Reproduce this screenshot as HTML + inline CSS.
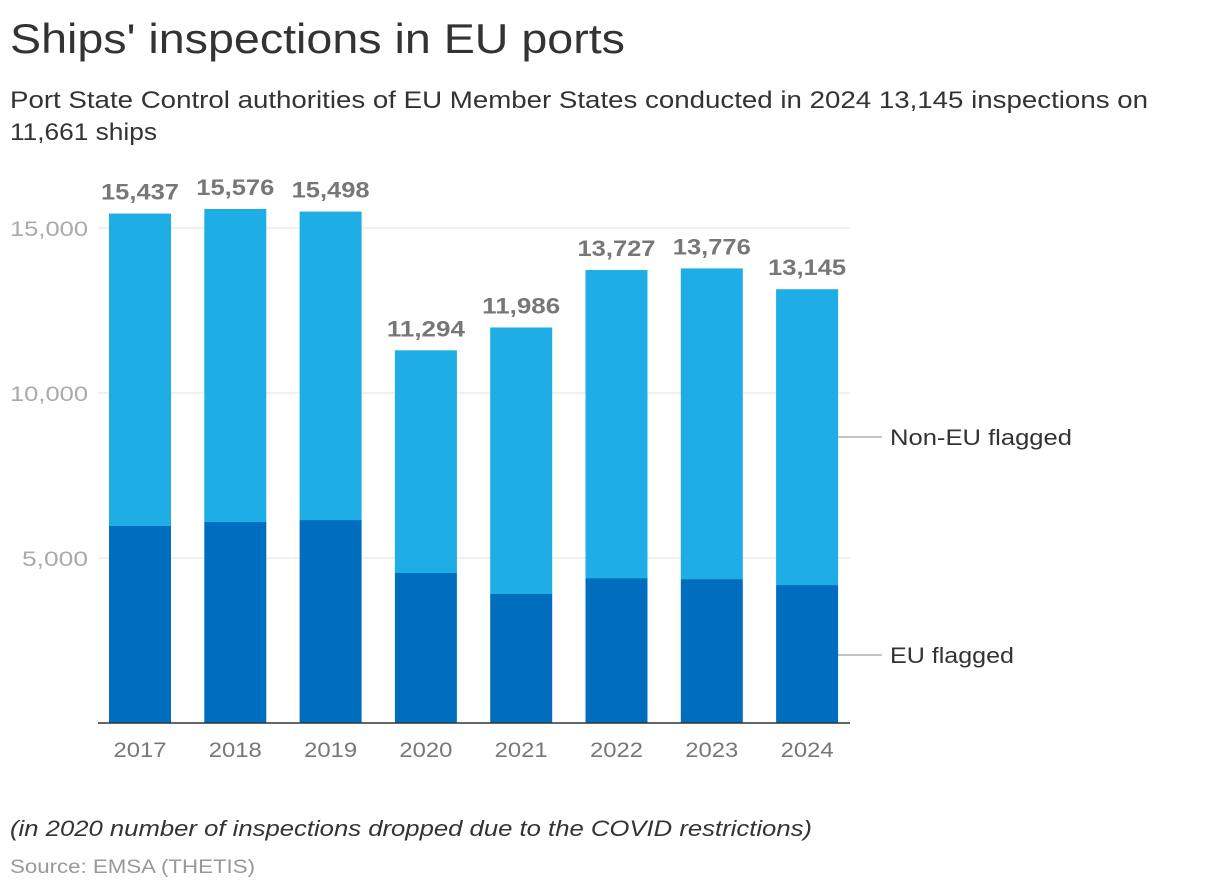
<!DOCTYPE html>
<html><head><meta charset="utf-8">
<style>
body{margin:0;background:#fff;width:1220px;height:890px;overflow:hidden;font-family:"Liberation Sans",sans-serif;}
svg text{font-family:"Liberation Sans",sans-serif;}
</style></head>
<body>
<svg id="chart" width="1220" height="890">
<text x="10" y="53" font-size="42" fill="#333" textLength="615" lengthAdjust="spacingAndGlyphs">Ships' inspections in EU ports</text>
<text x="10" y="108" font-size="24" fill="#333" textLength="1138" lengthAdjust="spacingAndGlyphs">Port State Control authorities of EU Member States conducted in 2024 13,145 inspections on</text>
<text x="10" y="140" font-size="24" fill="#333" textLength="147" lengthAdjust="spacingAndGlyphs">11,661 ships</text>
<g id="grid"></g>
<g id="bars"></g>
<line x1="98" x2="850" y1="723" y2="723" stroke="#333" stroke-width="1.5"/>
<line x1="838" x2="882" y1="437" y2="437" stroke="#888"/>
<text x="890" y="445" font-size="22" fill="#333" textLength="182" lengthAdjust="spacingAndGlyphs">Non-EU flagged</text>
<line x1="838" x2="882" y1="655" y2="655" stroke="#888"/>
<text x="890" y="663" font-size="22" fill="#333" textLength="124" lengthAdjust="spacingAndGlyphs">EU flagged</text>
<text x="10" y="836" font-size="22" font-style="italic" fill="#333" textLength="802" lengthAdjust="spacingAndGlyphs">(in 2020 number of inspections dropped due to the COVID restrictions)</text>
<text x="10" y="873" font-size="19" fill="#999" textLength="245" lengthAdjust="spacingAndGlyphs">Source: EMSA (THETIS)</text>
</svg>
<script>
const years=["2017","2018","2019","2020","2021","2022","2023","2024"];
const euFlagged=[5970,6090,6150,4545,3910,4390,4360,4180];
const totals=[15437,15576,15498,11294,11986,13727,13776,13145];
const yTicks=[5000,10000,15000];
const NS="http://www.w3.org/2000/svg";
const y0=723,pxPer=165/5000;
const y=v=>y0-v*pxPer;
const x=i=>140+i*95.3;
const bw=62;
function mk(tag,attrs,parent){const e=document.createElementNS(NS,tag);for(const k in attrs)e.setAttribute(k,attrs[k]);parent.appendChild(e);return e;}
const grid=document.getElementById('grid'),bars=document.getElementById('bars');
yTicks.forEach(t=>{
  const l=mk('line',{x1:98,x2:850,y1:y(t),y2:y(t),stroke:'#e2e2e2'},grid);
  
  
  const tx=mk('text',{x:88,y:y(t)+8,'text-anchor':'end','font-size':21,fill:'#aaa',textLength:(t>=10000?78:66),lengthAdjust:'spacingAndGlyphs'},grid);
  tx.textContent=t.toLocaleString('en-US');
  
  
});
years.forEach((yr,i)=>{
  const cx=x(i);
  const nonEu=totals[i]-euFlagged[i];
  const r1=mk('rect',{x:cx-bw/2,y:y(totals[i]),width:bw,height:nonEu*pxPer,fill:'#1fade6'},bars);
  
  
  const r2=mk('rect',{x:cx-bw/2,y:y(euFlagged[i]),width:bw,height:euFlagged[i]*pxPer,fill:'#006ebf'},bars);
  
  
  const lb=mk('text',{x:cx,y:y(totals[i])-14,'text-anchor':'middle','font-size':22,'font-weight':'bold',fill:'#777',textLength:78,lengthAdjust:'spacingAndGlyphs'},bars);
  lb.textContent=totals[i].toLocaleString('en-US');
  
  
  const xl=mk('text',{x:cx,y:757,'text-anchor':'middle','font-size':21,fill:'#777',textLength:53,lengthAdjust:'spacingAndGlyphs'},bars);
  xl.textContent=yr;
  
  
});
</script>
</body></html>
